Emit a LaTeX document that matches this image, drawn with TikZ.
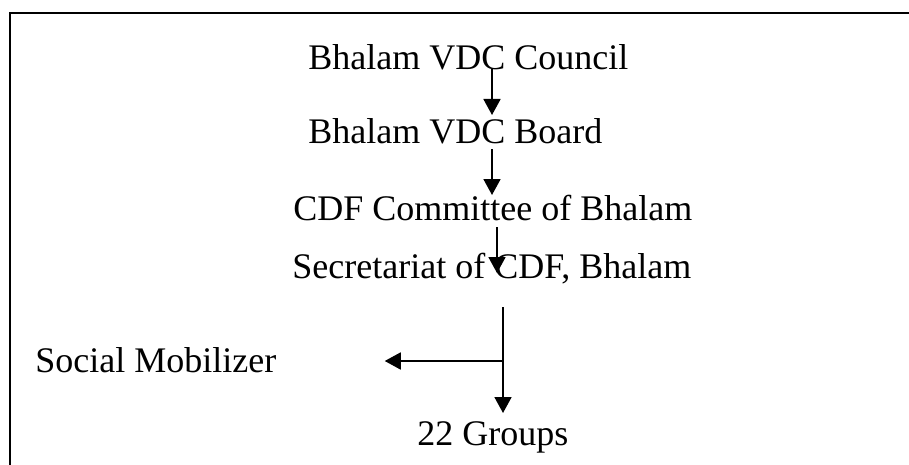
\documentclass[tikz,border=0pt]{standalone}
\usepackage{fontspec}
\setmainfont{Liberation Serif}
\usetikzlibrary{arrows.meta,calc}

\tikzset{
    lbl/.style={anchor=base west,inner sep=0pt,font=\fontsize{18}{22}\selectfont},
    flow/.style={line width=0.9pt,-{Triangle[length=8pt,width=8.5pt]}}
}

\begin{document}
\begin{tikzpicture}[line cap=butt,line join=miter,x=0.5pt,y=-0.5pt]
                \useasboundingbox (0,0) rectangle (909,465);
                \draw [line width=1.1pt] (10,465)-- (10,13)-- (909,13);
                \node[lbl] (council) at (308,69) {Bhalam VDC Council};
                \node[lbl] (board) at (308,143) {Bhalam VDC Board};
                \node[lbl] (comm) at (293,220) {CDF Committee of Bhalam};
                \node[lbl] (secr) at (292,278) {Secretariat of CDF, Bhalam};
                \node[lbl] (social) at (35,372) {Social Mobilizer};
                \node[lbl] (groups) at (417,445) {22 Groups};
                \coordinate (sp1) at (492,0);
                \coordinate (sp2) at (497,0);
                \coordinate (sp3) at (503,0);
                \coordinate (split) at (503,361);
                \draw [flow] (council.base -| sp1)-- ($(board.base -| sp1)+(0,-28)$);
                \draw [flow] ($(board.base -| sp1)+(0,6)$)-- ($(comm.base -| sp1)+(0,-25)$);
                \draw [flow] ($(comm.base -| sp2)+(0,7)$)-- ($(secr.base -| sp2)+(0,-5)$);
                \draw [flow] ($(secr.base -| sp3)+(0,29)$)-- ($(groups.base -| sp3)+(0,-32)$);
                \draw [flow] (split)-- ($(social.base east)+(108,-11)$);
\end{tikzpicture}
\end{document}
